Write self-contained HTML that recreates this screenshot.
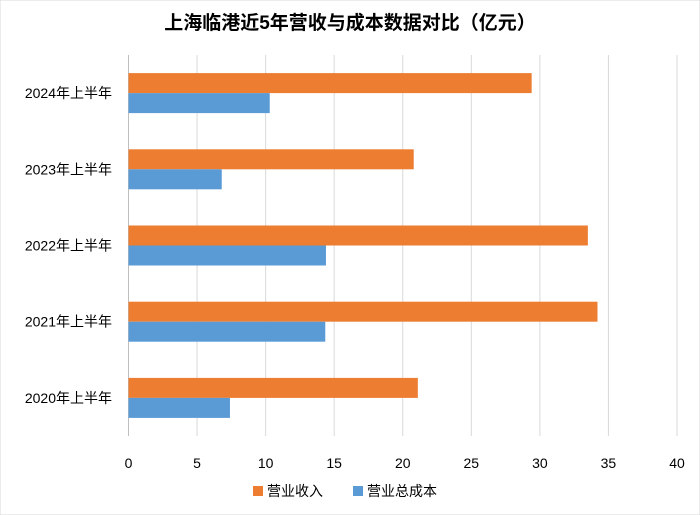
<!DOCTYPE html>
<html><head><meta charset="utf-8"><style>
body{margin:0;background:#fff;}
svg{display:block;font-family:"Liberation Sans","Noto Sans CJK SC",sans-serif;}
</style></head><body>
<svg id="chart" width="700" height="515">
<rect width="700" height="515" fill="#fff" stroke="#d9d9d9"/>
<text x="350" y="29" text-anchor="middle" font-size="19" font-weight="bold" fill="#000">上海临港近5年营收与成本数据对比（亿元）</text>
<g id="grid"></g><g id="bars"></g><g id="labels"></g>
<g>
<rect x="253" y="486" width="10" height="10" fill="#ED7D31"/>
<text x="267" y="496" font-size="14" fill="#000">营业收入</text>
<rect x="353" y="486" width="10" height="10" fill="#5B9BD5"/>
<text x="367" y="496" font-size="14" fill="#000">营业总成本</text>
</g>
</svg>
<script>
const categories = ["2024年上半年","2023年上半年","2022年上半年","2021年上半年","2020年上半年"];
const revenue = [29.4, 20.8, 33.5, 34.2, 21.1];
const cost = [10.3, 6.8, 14.4, 14.35, 7.4];
const ticks = [0,5,10,15,20,25,30,35,40];
const NS="http://www.w3.org/2000/svg";
const x0=128.5, x1=677, plotTop=55, plotBottom=436, xmax=40;
const X=v=>x0+(x1-x0)*v/xmax;
const band=(plotBottom-plotTop)/categories.length;
const Y=i=>plotTop+band*i+band/2;
function mk(tag,attrs,parent){const e=document.createElementNS(NS,tag);for(const k in attrs)e.setAttribute(k,attrs[k]);document.getElementById(parent).appendChild(e);return e;}
ticks.forEach(t=>{
  const l=mk('line',{x1:X(t),x2:X(t),y1:plotTop,y2:plotBottom,stroke:t===0?'#bfbfbf':'#d9d9d9','stroke-width':1},'grid');
  
  
  const tx=mk('text',{x:X(t),y:468,'text-anchor':'middle','font-size':14,fill:'#000'},'labels');
  tx.textContent=t;
  
  
});
categories.forEach((c,i)=>{
  const cy=Y(i);
  const r=mk('rect',{x:X(0),y:cy-20,width:X(revenue[i])-X(0),height:20,fill:'#ED7D31'},'bars');
  
  
  const b=mk('rect',{x:X(0),y:cy,width:X(cost[i])-X(0),height:20,fill:'#5B9BD5'},'bars');
  
  
  const t=mk('text',{x:112,y:cy+5,'text-anchor':'end','font-size':14,fill:'#000'},'labels');
  t.textContent=c;
  
  
});
</script>
</body></html>
